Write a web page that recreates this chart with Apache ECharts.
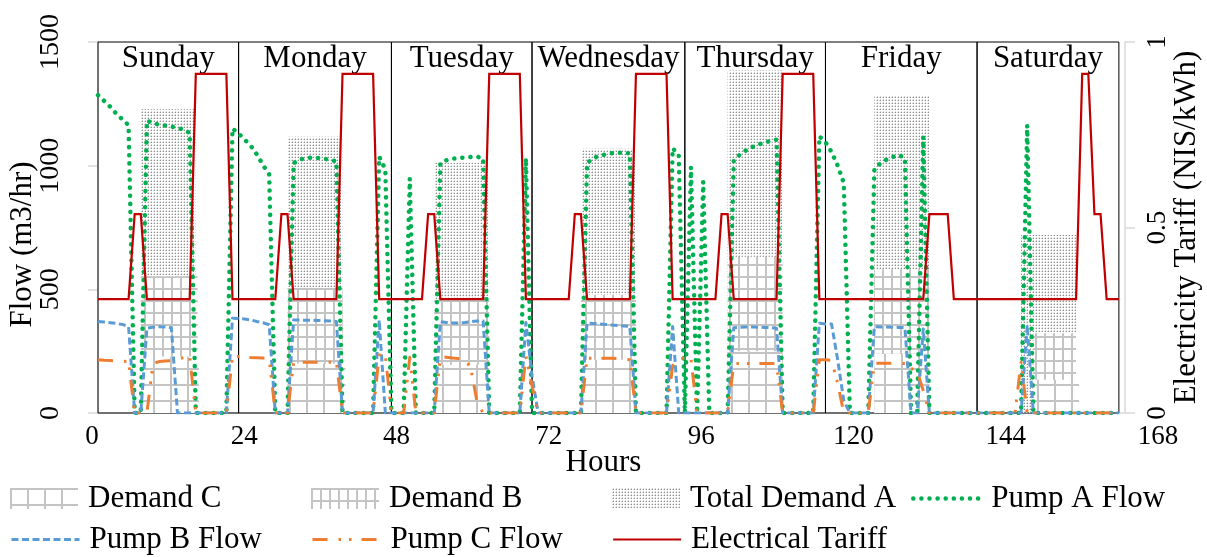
<!DOCTYPE html>
<html>
<head>
<meta charset="utf-8">
<title>Weekly pump schedule</title>
<script src="https://cdn.jsdelivr.net/npm/echarts@6/dist/echarts.min.js"></script>
<style>
  html, body { margin: 0; padding: 0; background: #fff; }
  #chart { width: 1207px; height: 557px; }
</style>
</head>
<body>
<div id="chart"></div>
<script>
// Weekly pump schedule: hourly pump flows and demands (m3/hr) against the
// electricity tariff (NIS/kWh). Hour index 0..167 = Sunday 00:00 .. Saturday 23:00.
const FONT = 'Liberation Serif'

const DAYS = ['Sunday', 'Monday', 'Tuesday', 'Wednesday', 'Thursday', 'Friday', 'Saturday']
// day frames as drawn on the chart (hours)
const DAY_EDGES = [0, 23, 48, 71, 96, 119, 143.8, 167]

// tariff levels (NIS/kWh): low, mid, high
const L = 0.307, M = 0.536, H = 0.914
const TARIFF = [
  L, L, L, L, L, L, M, M, L, L, L, L, L, L, L, L, H, H, H, H, H, H, L, L,
  L, L, L, L, L, L, M, M, L, L, L, L, L, L, L, L, H, H, H, H, H, H, L, L,
  L, L, L, L, L, L, M, M, L, L, L, L, L, L, L, L, H, H, H, H, H, H, L, L,
  L, L, L, L, L, L, M, M, L, L, L, L, L, L, L, L, H, H, H, H, H, H, L, L,
  L, L, L, L, L, L, M, M, L, L, L, L, L, L, L, L, H, H, H, H, H, H, L, L,
  L, L, L, L, L, L, L, L, L, L, L, L, L, L, L, L, M, M, M, M, L, L, L, L,
  L, L, L, L, L, L, L, L, L, L, L, L, L, L, L, L, L, H, H, M, M, L, L, L
]

const PUMP_A = [
  1285, 1262, 1238, 1210, 1187, 1164, 0, 0, 1182, 1172, 1166, 1162, 1158, 1153, 1146, 1132, 0, 0, 0, 0, 0, 0, 1150, 1130,
  1105, 1080, 1045, 1002, 965, 0, 0, 0, 1010, 1025, 1030, 1033, 1031, 1028, 1023, 1018, 0, 0, 0, 0, 0, 0, 1036, 985,
  0, 0, 0, 948, 0, 0, 0, 0, 1010, 1022, 1028, 1031, 1033, 1035, 1036, 1030, 0, 0, 0, 0, 0, 0, 1030, 0,
  0, 0, 0, 0, 0, 0, 0, 0, 1010, 1030, 1040, 1045, 1050, 1052, 1052, 1050, 0, 0, 0, 0, 0, 0, 1070, 1045,
  0, 995, 0, 935, 0, 0, 0, 0, 1020, 1045, 1062, 1075, 1085, 1093, 1100, 1105, 0, 0, 0, 0, 0, 0, 1119, 1095,
  1055, 1000, 930, 0, 0, 0, 0, 985, 1010, 1025, 1035, 1043, 1030, 0, 0, 1117, 0, 0, 0, 0, 0, 0, 0, 0,
  0, 0, 0, 0, 0, 0, 0, 0, 1164, 0, 0, 0, 0, 0, 0, 0, 0, 0, 0, 0, 0, 0, 0, 0
]

const PUMP_B = [
  370, 368, 365, 362, 358, 349, 0, 0, 343, 347, 349, 348, 345, 0, 0, 0, 0, 0, 0, 0, 0, 0, 383, 382,
  380, 376, 370, 365, 357, 0, 0, 0, 376, 376, 375, 375, 374, 373, 372, 370, 0, 0, 0, 0, 0, 0, 376, 0,
  0, 0, 0, 0, 0, 0, 0, 0, 369, 366, 364, 364, 366, 369, 372, 372, 0, 0, 0, 0, 0, 0, 366, 150,
  0, 0, 0, 0, 0, 0, 0, 0, 364, 362, 360, 358, 356, 354, 352, 350, 0, 0, 0, 0, 0, 0, 350, 0,
  0, 0, 0, 0, 0, 0, 0, 0, 345, 347, 348, 348, 347, 346, 345, 343, 0, 0, 0, 0, 0, 0, 363, 360,
  360, 215, 50, 0, 0, 0, 0, 349, 348, 348, 347, 346, 345, 0, 0, 340, 0, 0, 0, 0, 0, 0, 0, 0,
  0, 0, 0, 0, 0, 0, 0, 0, 355, 0, 0, 0, 0, 0, 0, 0, 0, 0, 0, 0, 0, 0, 0, 0
]

const PUMP_C = [
  215, 213, 212, 210, 209, 208, 0, 0, 0, 200, 208, 210, 212, 218, 224, 228, 0, 0, 0, 0, 0, 0, 228, 228,
  226, 224, 223, 222, 221, 0, 0, 0, 205, 205, 205, 205, 205, 205, 205, 205, 0, 0, 0, 0, 0, 0, 235, 235,
  0, 0, 0, 225, 0, 0, 0, 0, 225, 225, 222, 220, 220, 180, 45, 0, 0, 0, 0, 0, 0, 0, 230, 110,
  0, 0, 0, 0, 0, 0, 0, 0, 221, 221, 221, 221, 221, 220, 218, 215, 0, 0, 0, 0, 0, 0, 190, 222,
  221, 220, 0, 0, 0, 0, 0, 0, 200, 200, 200, 200, 200, 200, 200, 200, 0, 0, 0, 0, 0, 0, 215, 215,
  213, 120, 0, 0, 0, 0, 0, 201, 201, 201, 201, 201, 200, 180, 170, 90, 0, 0, 0, 0, 0, 0, 0, 0,
  0, 0, 0, 0, 0, 0, 0, 205, 0, 0, 0, 0, 0, 0, 0, 0, 0, 0, 0, 0, 0, 0, 0, 0
]

// demand blocks: [from hour, to hour, m3/hr]
const DEMAND_A = [[7, 16, 1228], [31, 40, 1117], [55, 64, 1012], [79, 88, 1068], [103, 112, 1385], [127, 136, 1285], [151, 160, 720]]
const DEMAND_B = [[7, 16.3, 553], [31, 40, 505], [55, 64, 457], [79, 88, 477], [103, 112, 632], [127, 136, 581], [153, 160, 322]]
const DEMAND_C = [[7, 16.5, 228], [31, 40.5, 200], [55, 64, 195], [79, 88, 215], [103, 112, 250], [127, 136, 240], [153, 160.5, 134]]

// ---- fills (Excel-like pattern fills)
function tile(w, h, draw) {
  const c = document.createElement('canvas'); c.width = w; c.height = h
  draw(c.getContext('2d'), w, h)
  return { image: c, repeat: 'repeat' }
}
const fillA = tile(3, 3, g => {
  g.fillStyle = '#8e8e8e'; g.fillRect(1, 1, 1, 1)
  g.fillStyle = '#d4d4d4'; g.fillRect(0, 1, 1, 1); g.fillRect(1, 0, 1, 1)
})
const fillB = tile(9, 12, (g, w, h) => {
  g.fillStyle = '#fff'; g.fillRect(0, 0, w, h)
  g.fillStyle = '#c4c4c4'; g.fillRect(0, 0, 2, h); g.fillRect(0, 0, w, 2)
})
const fillC = tile(17, 16, (g, w, h) => {
  g.fillStyle = '#fff'; g.fillRect(0, 0, w, h)
  g.fillStyle = '#c4c4c4'; g.fillRect(0, 0, 2, h); g.fillRect(0, 0, w, 2)
})

const hourly = arr => arr.map((v, i) => [i, v])
function blocks(list) {
  const pts = [[0, 0]]
  list.forEach(([s, e, v]) => pts.push([s, 0], [s, v], [e, v], [e, 0]))
  pts.push([168, 0])
  return pts
}

const chart = echarts.init(document.getElementById('chart'), null, { renderer: 'canvas' })
const txt = { fontFamily: FONT, color: '#000' }
const grey = '#d9d9d9'

const area = (name, list, fill, z) => ({
  name, type: 'line', data: blocks(list), symbol: 'none', z, silent: true,
  lineStyle: { width: 0 }, itemStyle: { color: '#bfbfbf' },
  areaStyle: { color: fill, opacity: 1 }
})
const flow = (name, data, color, width, dash, cap, z) => ({
  name, type: 'line', data: hourly(data), symbol: 'none', z, silent: true,
  itemStyle: { color },
  lineStyle: { color, width, type: dash, cap, join: 'round' }
})
const noDot = { color: 'rgba(0,0,0,0)', borderWidth: 0, opacity: 0 }
// one legend block per entry, laid out like the original two-row key
const legendAt = (left, top, item, w) => ({
  left, top, padding: 0, itemWidth: w || 68, itemHeight: 21, selectedMode: false,
  textStyle: { ...txt, fontSize: 31, padding: [0, 0, 0, 5] }, data: [item]
})
const ROW1 = 483, ROW2 = 524

chart.setOption({
  animation: false,
  grid: [
    { left: 98, right: 82, top: 42, bottom: 144, outerBoundsMode: 'none' },
    { left: 92, right: 49, top: 42, bottom: 144, outerBoundsMode: 'none' }
  ],
  xAxis: [
    {
      type: 'value', min: 0, max: 168, gridIndex: 0,
      axisLine: { lineStyle: { color: grey, width: 1.5 } }, axisTick: { show: false },
      axisLabel: { show: false }, splitLine: { show: false },
      name: 'Hours', nameLocation: 'middle', nameGap: 34, nameMoveOverlap: false,
      nameTextStyle: { ...txt, fontSize: 31, padding: [0, 16, 0, 0] }
    },
    {
      type: 'value', min: 0, max: 168, interval: 24, gridIndex: 1,
      axisLine: { show: false }, axisTick: { show: false }, splitLine: { show: false },
      axisLabel: { ...txt, fontSize: 27, margin: 10, formatter: v => String(v) }
    }
  ],
  yAxis: [
    {
      type: 'value', min: 0, max: 1500, interval: 500, gridIndex: 0,
      axisLine: { show: true, lineStyle: { color: grey, width: 1.5 } },
      axisTick: { show: true, length: 10, lineStyle: { color: grey, width: 1.5 } },
      splitLine: { show: false },
      axisLabel: { ...txt, fontSize: 28, rotate: 90, margin: 33, formatter: v => String(v) },
      name: 'Flow (m3/hr)', nameLocation: 'middle', nameGap: 60, nameMoveOverlap: false,
      nameTextStyle: { ...txt, fontSize: 31, padding: [0, 34, 0, 0] }
    },
    {
      type: 'value', min: 0, max: 1, interval: 0.5, gridIndex: 0, position: 'right',
      axisLine: { show: true, lineStyle: { color: grey, width: 1.5 } },
      axisTick: { show: true, length: 10, lineStyle: { color: grey, width: 1.5 } },
      splitLine: { show: false },
      axisLabel: { ...txt, fontSize: 27, rotate: 90, margin: 19, formatter: v => String(v) },
      name: 'Electricity Tariff (NIS/kWh)', nameLocation: 'middle', nameGap: 46, nameMoveOverlap: false,
      nameTextStyle: { ...txt, fontSize: 31 }
    },
    { type: 'value', gridIndex: 1, show: false, min: 0, max: 1 }
  ],
  legend: [
    legendAt(10, ROW1, { name: 'Demand C', icon: 'rect', itemStyle: { color: fillC, borderWidth: 0 } }),
    legendAt(311, ROW1, { name: 'Demand B', icon: 'rect', itemStyle: { color: fillB, borderWidth: 0 } }),
    legendAt(612, ROW1, { name: 'Total Demand A', icon: 'rect', itemStyle: { color: fillA, borderWidth: 0 } }),
    legendAt(911, ROW1, { name: 'Pump A Flow', itemStyle: noDot, lineStyle: { width: 4.5 } }),
    legendAt(10, ROW2, { name: 'Pump B Flow', itemStyle: noDot, lineStyle: { width: 3 } }),
    legendAt(311, ROW2, { name: 'Pump C Flow', itemStyle: noDot, lineStyle: { width: 3 } }),
    legendAt(612, ROW2, { name: 'Electrical Tariff', itemStyle: noDot, lineStyle: { width: 2.2 } })
  ],
  series: [
    area('Total Demand A', DEMAND_A, fillA, 1),
    area('Demand B', DEMAND_B, fillB, 1.1),
    area('Demand C', DEMAND_C, fillC, 1.2),
    flow('Pump A Flow', PUMP_A, '#00b050', 4.5, [0.1, 8], 'round', 3),
    flow('Pump B Flow', PUMP_B, '#5b9bd5', 3, [7, 3.5], 'butt', 3.1),
    flow('Pump C Flow', PUMP_C, '#ed7d31', 3, [15, 11, 2.5, 8, 2.5, 10], 'butt', 3.2),
    {
      name: 'Electrical Tariff', type: 'line', yAxisIndex: 1, data: hourly(TARIFF),
      symbol: 'none', z: 4, silent: true, itemStyle: { color: '#c00000' },
      lineStyle: { color: '#c00000', width: 2.2, join: 'miter' }
    },
    {
      name: 'days', type: 'line', data: [], z: 5, silent: true,
      markArea: {
        silent: true,
        itemStyle: { color: 'rgba(0,0,0,0)', borderColor: '#000', borderWidth: 1 },
        label: { show: true, position: 'insideTop', distance: 2, ...txt, fontSize: 31 },
        data: DAYS.map((d, i) => [
          { name: d, xAxis: DAY_EDGES[i], yAxis: 0 },
          { xAxis: DAY_EDGES[i + 1], yAxis: 1500 }
        ])
      }
    }
  ]
})
</script>
</body>
</html>
